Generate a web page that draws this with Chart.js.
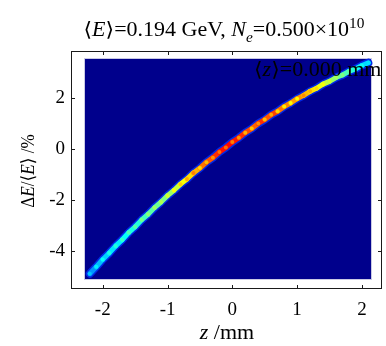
<!DOCTYPE html>
<html>
<head>
<meta charset="utf-8">
<script src="https://cdn.jsdelivr.net/npm/chart.js@4.4.0/dist/chart.umd.min.js"></script>
<style>
  html, body { margin: 0; padding: 0; background: #fff; }
  #wrap { width: 386px; height: 346px; }
</style>
</head>
<body>
<div id="wrap"><canvas id="beamChart" width="386" height="346"></canvas></div>
<script>
// band centre line: z (mm) -> dE/<E> (%)
const zPos = [-2.2, -2.1, -2.0, -1.9, -1.8, -1.7, -1.6, -1.5, -1.4, -1.3, -1.2, -1.1, -1.0, -0.9, -0.8,
  -0.7, -0.6, -0.5, -0.4, -0.3, -0.2, -0.1, 0.0, 0.1, 0.2, 0.3, 0.4, 0.5, 0.6, 0.7, 0.8, 0.9,
  1.0, 1.1, 1.2, 1.3, 1.4, 1.5, 1.6, 1.7, 1.8, 1.9, 2.0, 2.1];
const dE = [-4.89, -4.62, -4.33, -4.08, -3.80, -3.56, -3.28, -3.05, -2.78, -2.56, -2.30, -2.08, -1.83, -1.62, -1.38,
  -1.18, -0.94, -0.75, -0.52, -0.34, -0.12, 0.06, 0.27, 0.44, 0.64, 0.80, 1.00, 1.15, 1.34, 1.48, 1.66, 1.80,
  1.97, 2.10, 2.26, 2.38, 2.54, 2.65, 2.80, 2.90, 3.04, 3.14, 3.27, 3.38];
// relative density along the band (0..1, jet colour scale)
const density = [0.27, 0.31, 0.33, 0.35, 0.36, 0.38, 0.40, 0.41, 0.44, 0.46, 0.48, 0.50, 0.53, 0.57, 0.62,
  0.66, 0.70, 0.76, 0.79, 0.83, 0.86, 0.87, 0.85, 0.83, 0.80, 0.78, 0.83, 0.79, 0.81, 0.76, 0.74, 0.72,
  0.73, 0.69, 0.65, 0.61, 0.57, 0.53, 0.49, 0.45, 0.42, 0.38, 0.34, 0.30];
const xTicks = [-2, -1, 0, 1, 2];
const yTicks = [-4, -2, 0, 2];
const xRange = [-2.49, 2.31];
const yRange = [-5.49, 3.84];
const imageZ = [-2.28, 2.14];
const imageE = [-5.10, 3.53];

const SERIF = '"Liberation Serif", "DejaVu Serif", "DejaVu Sans", serif';

function jet(v) {
  const c = t => Math.round(255 * Math.max(0, Math.min(1, t)));
  return `rgb(${c(1.5 - Math.abs(4 * v - 3))},${c(1.5 - Math.abs(4 * v - 2))},${c(1.5 - Math.abs(4 * v - 1))})`;
}

function fontFor(style, size) {
  const s = (style.includes("sub") || style.includes("sup")) ? Math.round(size * 0.7) : size;
  return (style.includes("i") ? "italic " : "") + s + "px " + SERIF;
}

// draws mixed italic / sub / sup text
function drawRich(ctx, parts, x, y, size, align, sx) {
  ctx.save();
  ctx.translate(x, y);
  ctx.scale(sx, 1);
  ctx.textBaseline = "alphabetic";
  ctx.textAlign = "left";
  const widths = parts.map(p => { ctx.font = fontFor(p[1], size); return ctx.measureText(p[0]).width; });
  const total = widths.reduce((a, b) => a + b, 0);
  let cx = align === "center" ? -total / 2 : 0;
  parts.forEach((p, i) => {
    ctx.font = fontFor(p[1], size);
    let dy = 0;
    if (p[1].includes("sub")) dy = size * 0.3;
    if (p[1].includes("sup")) dy = -size * 0.42;
    ctx.fillText(p[0], cx, dy);
    cx += widths[i];
  });
  ctx.restore();
}

const pts = zPos.map((z, i) => ({ x: z, y: dE[i] }));

const imagePlugin = {
  id: "imageBg",
  beforeDatasetsDraw(chart) {
    const { ctx, scales: { x, y } } = chart;
    const l = x.getPixelForValue(imageZ[0]), r = x.getPixelForValue(imageZ[1]);
    const t = y.getPixelForValue(imageE[1]), b = y.getPixelForValue(imageE[0]);
    ctx.save();
    ctx.fillStyle = "rgb(0,0,140)";
    ctx.fillRect(l, t, r - l, b - t);
    ctx.strokeStyle = "#c9c9e4";
    ctx.lineWidth = 1;
    ctx.strokeRect(Math.round(l) - 0.5, Math.round(t) - 0.5, Math.round(r - l) + 1, Math.round(b - t) + 1);
    ctx.restore();
  },
  afterDraw(chart) {
    const { ctx, chartArea: a, scales: { x, y } } = chart;
    ctx.save();
    // frame with inward ticks
    ctx.strokeStyle = "#1a1a1a";
    ctx.lineWidth = 1;
    ctx.strokeRect(Math.round(a.left) + 0.5, Math.round(a.top) + 0.5, Math.round(a.right - a.left) - 1, Math.round(a.bottom - a.top) - 1);
    ctx.beginPath();
    xTicks.forEach(v => {
      const px = Math.round(x.getPixelForValue(v)) + 0.5;
      ctx.moveTo(px, a.bottom); ctx.lineTo(px, a.bottom - 4);
      ctx.moveTo(px, a.top); ctx.lineTo(px, a.top + 4);
    });
    yTicks.forEach(v => {
      const py = Math.round(y.getPixelForValue(v)) + 0.5;
      ctx.moveTo(a.left, py); ctx.lineTo(a.left + 4, py);
      ctx.moveTo(a.right, py); ctx.lineTo(a.right - 4, py);
    });
    ctx.stroke();

    ctx.fillStyle = "#000";
    drawRich(ctx, [["\u27E8", ""], ["E", "i"], ["\u27E9=0.194 GeV, ", ""], ["N", "i"], ["e", "isub"], ["=0.500\u00D710", ""], ["10", "sup"]],
      224, 36, 20, "center", 1.1);
    drawRich(ctx, [["\u27E8", ""], ["z", "i"], ["\u27E9=0.000 mm", ""]], 254, 76, 20, "left", 1.1);
    drawRich(ctx, [["z", "i"], [" /mm", ""]], 227, 339, 20, "center", 1.1);
    ctx.save();
    ctx.translate(34, 171);
    ctx.rotate(-Math.PI / 2);
    drawRich(ctx, [["\u0394", ""], ["E", "i"], ["/\u27E8", ""], ["E", "i"], ["\u27E9 /%", ""]], 0, 0, 18, "center", 0.95);
    ctx.restore();
    ctx.restore();
  }
};

new Chart(document.getElementById("beamChart"), {
  type: "scatter",
  data: {
    datasets: [
      {
        data: pts, showLine: true, order: 3, pointRadius: 0,
        borderColor: "rgb(0,40,230)", borderWidth: 8,
        borderCapStyle: "round", borderJoinStyle: "round"
      },
      {
        data: pts, showLine: true, order: 2, pointRadius: 0,
        borderWidth: 5, borderCapStyle: "round", borderJoinStyle: "round",
        borderColor: jet(0.5),
        segment: { borderColor: c => jet(density[c.p0DataIndex]) }
      },
      {
        data: pts, showLine: false, order: 1, pointRadius: 2, borderWidth: 0,
        backgroundColor: density.map(d => jet(d > 0.7 ? d - 0.1 : d + 0.05))
      }
    ]
  },
  options: {
    responsive: false,
    animation: false,
    layout: { padding: { top: 51, right: 3, left: 0, bottom: 0 } },
    plugins: { legend: { display: false }, tooltip: { enabled: false } },
    scales: {
      x: {
        type: "linear", min: xRange[0], max: xRange[1],
        grid: { display: false, drawTicks: false }, border: { display: false },
        ticks: { font: { family: SERIF, size: 19 }, color: "#000", padding: 10, autoSkip: false, maxRotation: 0 },
        afterBuildTicks: s => { s.ticks = xTicks.map(v => ({ value: v })); },
        afterFit: s => { s.height = 57; }
      },
      y: {
        type: "linear", min: yRange[0], max: yRange[1],
        grid: { display: false, drawTicks: false }, border: { display: false },
        ticks: { font: { family: SERIF, size: 19 }, color: "#000", padding: 6, autoSkip: false },
        afterBuildTicks: s => { s.ticks = yTicks.map(v => ({ value: v })); },
        afterFit: s => { s.width = 71; }
      }
    }
  },
  plugins: [imagePlugin]
});
</script>
</body>
</html>
